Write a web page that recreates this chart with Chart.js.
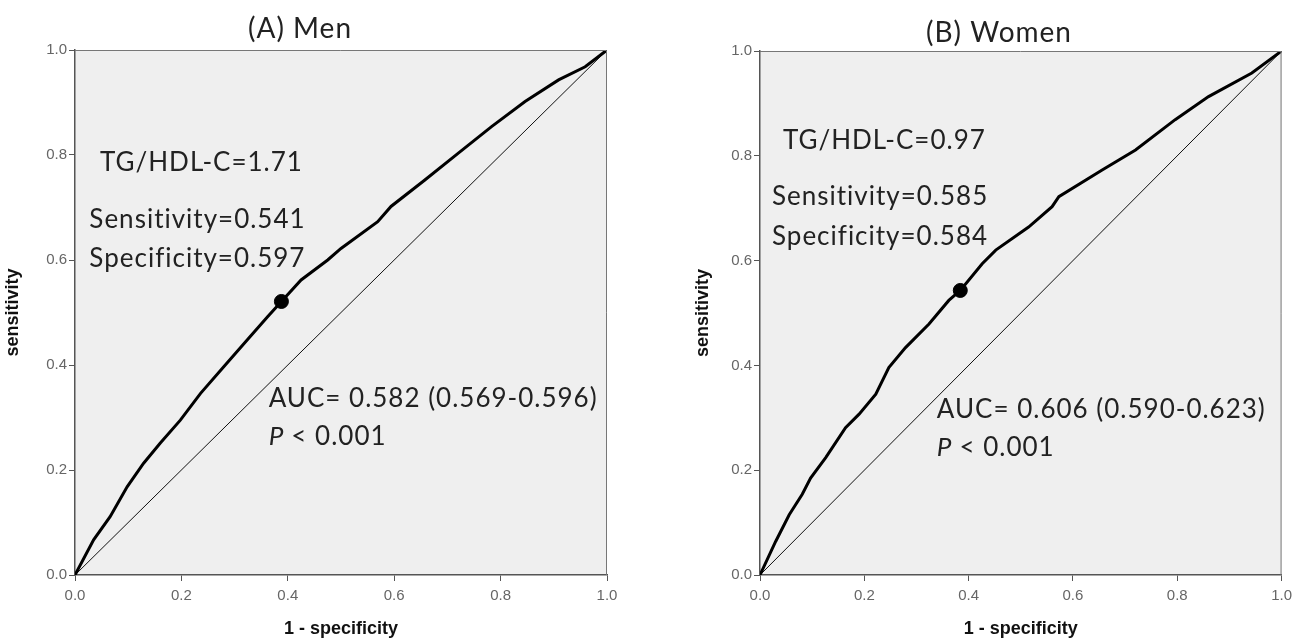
<!DOCTYPE html>
<html>
<head>
<meta charset="utf-8">
<script src="https://cdn.jsdelivr.net/npm/chart.js@4.4.1/dist/chart.umd.min.js"></script>
<style>
html, body { margin: 0; padding: 0; background: #fff; }
.panel { position: absolute; top: 0; height: 640px; }
#left { left: 0; width: 650px; }
#right { left: 650px; width: 648px; }
</style>
</head>
<body>
<div class="panel" id="left"><canvas id="menChart"></canvas></div>
<div class="panel" id="right"><canvas id="womenChart"></canvas></div>
<script>
// ROC curve for men: 1 - specificity vs sensitivity
const menFpr = [0, 0.035, 0.066, 0.098, 0.129, 0.160, 0.198, 0.236, 0.280, 0.324, 0.362, 0.388, 0.425, 0.475, 0.5, 0.569, 0.594, 0.657, 0.72, 0.783, 0.846, 0.909, 0.959, 1];
const menTpr = [0, 0.067, 0.111, 0.168, 0.213, 0.251, 0.295, 0.346, 0.397, 0.448, 0.492, 0.521, 0.562, 0.600, 0.622, 0.673, 0.702, 0.752, 0.803, 0.854, 0.902, 0.943, 0.968, 1];
const menCut = [0.388, 0.521];

// ROC curve for women
const womenFpr = [0, 0.030, 0.056, 0.081, 0.097, 0.126, 0.164, 0.190, 0.222, 0.247, 0.279, 0.324, 0.362, 0.384, 0.426, 0.452, 0.515, 0.56, 0.573, 0.656, 0.72, 0.796, 0.86, 0.943, 1];
const womenTpr = [0, 0.064, 0.115, 0.154, 0.185, 0.224, 0.281, 0.307, 0.345, 0.396, 0.434, 0.479, 0.524, 0.543, 0.594, 0.620, 0.664, 0.703, 0.722, 0.773, 0.811, 0.869, 0.913, 0.958, 1];
const womenCut = [0.384, 0.543];

const diagonal = [0, 1];
const tickValues = [0, 0.2, 0.4, 0.6, 0.8, 1.0];

const menText = ['TG/HDL-C=1.71', 'Sensitivity=0.541', 'Specificity=0.597', 'AUC= 0.582 (0.569-0.596)', '< 0.001'];
const womenText = ['TG/HDL-C=0.97', 'Sensitivity=0.585', 'Specificity=0.584', 'AUC= 0.606 (0.590-0.623)', '< 0.001'];

const annFont = '26px Lato';

const panelPlugin = {
    id: 'panel',
    beforeDraw(chart, args, o) {
        const a = chart.chartArea
        const ctx = chart.ctx
        ctx.save()
        ctx.fillStyle = '#efefef'
        ctx.fillRect(a.left, a.top, a.right - a.left, a.bottom - a.top)
        ctx.restore()
    },
    afterDraw(chart, args, o) {
        const a = chart.chartArea
        const ctx = chart.ctx
        const x = chart.scales.x
        const y = chart.scales.y
        ctx.save()
        // top / right frame
        ctx.strokeStyle = '#777'
        ctx.lineWidth = 1
        ctx.beginPath()
        ctx.moveTo(a.left, a.top + 0.5)
        ctx.lineTo(a.right - 0.5, a.top + 0.5)
        ctx.lineTo(a.right - 0.5, a.bottom)
        ctx.stroke()

        // panel title
        ctx.fillStyle = '#222'
        ctx.font = '28px Lato'
        ctx.letterSpacing = '1px'
        ctx.textAlign = 'center'
        ctx.textBaseline = 'alphabetic'
        ctx.fillText(o.title, o.titleX, o.titleY)

        // annotations, anchored in data units
        ctx.font = annFont
        ctx.textAlign = 'left'
        o.lines.forEach((p, i) => {
            const px = x.getPixelForValue(p[0])
            const py = y.getPixelForValue(p[1])
            if (i === 4) {
                ctx.font = 'italic ' + annFont
                ctx.fillText('P', px, py)
                const w = ctx.measureText('P ').width
                ctx.font = annFont
                ctx.fillText(o.text[i], px + w, py)
            } else {
                ctx.fillText(o.text[i], px, py)
            }
        })
        ctx.restore()
    }
}

function makePanel(id, fpr, tpr, cut, cfg) {
    const curve = fpr.map((v, i) => ({ x: v, y: tpr[i] }))
    return new Chart(document.getElementById(id), {
        type: 'scatter',
        data: {
            datasets: [
                {
                    data: [{ x: cut[0], y: cut[1] }],
                    pointRadius: 7,
                    pointBackgroundColor: '#000',
                    pointBorderColor: '#000',
                    showLine: false
                },
                {
                    data: curve,
                    showLine: true,
                    borderColor: '#000',
                    borderWidth: 3,
                    pointRadius: 0,
                    tension: 0
                },
                {
                    data: diagonal.map(v => ({ x: v, y: v })),
                    showLine: true,
                    borderColor: '#111',
                    borderWidth: 1,
                    pointRadius: 0
                }
            ]
        },
        options: {
            responsive: true,
            maintainAspectRatio: false,
            animation: false,
            layout: { padding: cfg.padding },
            plugins: {
                legend: { display: false },
                tooltip: { enabled: false },
                panel: cfg.panel
            },
            scales: {
                x: {
                    type: 'linear',
                    min: 0,
                    max: 1,
                    afterBuildTicks: s => { s.ticks = tickValues.map(v => ({ value: v })) },
                    afterFit: s => { s.height = 65 },
                    ticks: {
                        callback: v => v.toFixed(1),
                        color: '#666',
                        font: { family: 'Liberation Sans', size: 15 },
                        padding: 6,
                        maxRotation: 0
                    },
                    grid: { drawOnChartArea: false, tickLength: 6, color: '#555' },
                    border: { color: '#555', width: 1.5 },
                    title: {
                        display: true,
                        text: '1 - specificity',
                        color: '#111',
                        font: { family: 'Liberation Sans', size: 18, weight: 'bold' },
                        padding: { top: 0, bottom: 0 }
                    }
                },
                y: {
                    type: 'linear',
                    min: 0,
                    max: 1,
                    afterBuildTicks: s => { s.ticks = tickValues.map(v => ({ value: v })) },
                    afterFit: s => { s.width = cfg.yWidth },
                    ticks: {
                        callback: v => v.toFixed(1),
                        color: '#666',
                        font: { family: 'Liberation Sans', size: 15 },
                        padding: 2
                    },
                    grid: { drawOnChartArea: false, tickLength: 6, color: '#555' },
                    border: { color: '#555', width: 1.5 },
                    title: {
                        display: true,
                        text: 'sensitivity',
                        color: '#111',
                        font: { family: 'Liberation Sans', size: 18, weight: 'bold' },
                        padding: { top: 2, bottom: 0 }
                    }
                }
            }
        },
        plugins: [panelPlugin]
    })
}

makePanel('menChart', menFpr, menTpr, menCut, {
    padding: { left: 0, top: 50, right: 43, bottom: 0 },
    yWidth: 75,
    panel: {
        title: '(A) Men',
        titleX: 300,
        titleY: 38,
        text: menText,
        lines: [[0.047, 0.77], [0.027, 0.661], [0.027, 0.587], [0.364, 0.32], [0.364, 0.248]]
    }
})

makePanel('womenChart', womenFpr, womenTpr, womenCut, {
    padding: { left: 40, top: 51, right: 16, bottom: 0 },
    yWidth: 70,
    panel: {
        title: '(B) Women',
        titleX: 349,
        titleY: 42,
        text: womenText,
        lines: [[0.044, 0.813], [0.023, 0.707], [0.023, 0.629], [0.339, 0.30], [0.339, 0.228]]
    }
})
</script>
</body>
</html>
